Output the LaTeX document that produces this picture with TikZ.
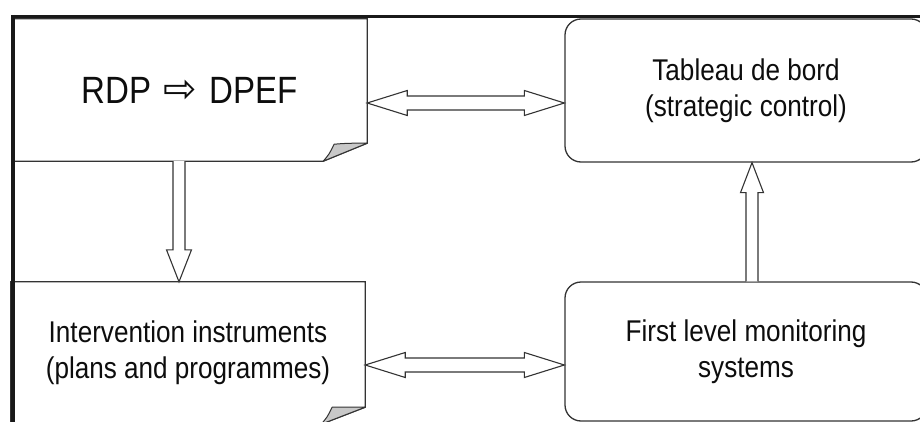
\documentclass[tikz,border=0pt]{standalone}
\usepackage{fontspec}
\setmainfont[FakeStretch=0.87]{Liberation Sans}
\newfontfamily\arrowfont{DejaVu Sans}
\usetikzlibrary{calc}
\definecolor{edge}{HTML}{333333}
\definecolor{curl}{HTML}{C8C8C8}
\definecolor{ink}{HTML}{0D0D0D}
\begin{document}
\begin{tikzpicture}[x=1pt,y=-1pt,
  boxtext/.style={text=ink, align=center, font=\fontsize{30}{36}\selectfont, inner sep=0pt},
  pagebox/.style={boxtext, minimum width=354pt, minimum height=142pt},
  rbox/.style={boxtext, draw=edge, line width=1.3pt, rounded corners=16pt, minimum width=362pt},
  outline/.style={draw=edge, line width=1.3pt, line join=miter},
  foldcurl/.style={draw=edge, fill=curl, line width=1pt, line join=round},
  blockarrow/.style={draw=edge, line width=1.1pt, fill=white, line join=miter},
  frameline/.style={draw=black!90, line width=3.5pt}]
\useasboundingbox (0,0) rectangle (920,422);
\fill[white] (0,0) rectangle (920,422);

% boxes
\node[pagebox, font=\fontsize{38}{44}\selectfont] (rdp) at (190,90)
  {RDP\hspace{0.3em}\raisebox{1pt}{\arrowfont\fontsize{40}{40}\selectfont ⇨}\hspace{0.35em}DPEF};
\node[pagebox, minimum height=142pt] (int) at (188,353)
  {Intervention instruments\\(plans and programmes)};
\node[rbox, minimum height=143pt] (tab) at (746,90.5)
  {Tableau de bord\\(strategic control)};
\node[rbox, minimum height=139pt] (mon) at (746,351.5)
  {First level monitoring\\systems};

% page outlines with a turned-up corner
\draw[outline] (rdp.north west) -- (rdp.north east) -- ($(rdp.south east)+(0,-18)$)
  -- ($(rdp.south east)+(-44,0)$) -- (rdp.south west) -- cycle;
\draw[foldcurl] ($(rdp.south east)+(-44,0)$) .. controls ($(rdp.south east)+(-38,-7)$)
  .. ($(rdp.south east)+(-33,-17)$) .. controls ($(rdp.south east)+(-20,-18)$)
  .. ($(rdp.south east)+(0,-18)$) -- cycle;
\draw[outline] (int.north west) -- (int.north east) -- ($(int.south east)+(0,-17)$)
  -- ($(int.south east)+(-44,0)$) -- (int.south west) -- cycle;
\draw[foldcurl] ($(int.south east)+(-44,0)$) .. controls ($(int.south east)+(-38,-7)$)
  .. ($(int.south east)+(-33,-17)$) .. controls ($(int.south east)+(-20,-17)$)
  .. ($(int.south east)+(0,-17)$) -- cycle;

% connector end points
\coordinate (t1) at ($(rdp.east)+(0,13)$);
\coordinate (t2) at (t1 -| tab.west);
\coordinate (b1) at ($(int.east)+(0,12)$);
\coordinate (b2) at (b1 -| mon.west);
\coordinate (d1) at ($(rdp.south)+(-11,0)$);
\coordinate (d2) at (d1 |- int.north);
\coordinate (u1) at ($(mon.north)+(6,0)$);
\coordinate (u2) at (u1 |- tab.south);

% two-headed block arrows
\draw[blockarrow] (t1) -- ++(40,-12.5) -- ++(0,5.5) -- ($(t2)+(-40,-7)$) -- ++(0,-5.5)
  -- (t2) -- ++(-40,12.5) -- ++(0,-5.5) -- ($(t1)+(40,7)$) -- ++(0,5.5) -- cycle;
\draw[blockarrow] (b1) -- ++(40,-12.5) -- ++(0,5.5) -- ($(b2)+(-40,-7)$) -- ++(0,-5.5)
  -- (b2) -- ++(-40,12.5) -- ++(0,-5.5) -- ($(b1)+(40,7)$) -- ++(0,5.5) -- cycle;

% one-headed block arrows
\draw[blockarrow] ($(d1)+(-6,0)$) -- ($(d2)+(-6,-32)$) -- ++(-6.5,0) -- (d2)
  -- ($(d2)+(12.5,-32)$) -- ++(-6.5,0) -- ($(d1)+(6,0)$);
\draw[blockarrow] ($(u1)+(-6,0)$) -- ($(u2)+(-6,30)$) -- ++(-5.5,0) -- (u2)
  -- ($(u2)+(11.5,30)$) -- ++(-5.5,0) -- ($(u1)+(6,0)$);

% outer frame
\draw[frameline] (11.5,16.5) -- (925,16.5);
\draw[frameline] (13,15) -- (13,425);
\end{tikzpicture}
\end{document}
